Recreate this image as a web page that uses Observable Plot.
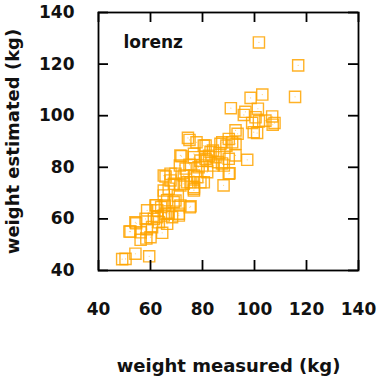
<!DOCTYPE html>
<html>
<head>
<meta charset="utf-8">
<script src="https://cdn.jsdelivr.net/npm/d3@7"></script>
<script src="https://cdn.jsdelivr.net/npm/@observablehq/plot@0.6"></script>
<style>
  html, body { margin: 0; padding: 0; background: #fff; }
</style>
</head>
<body>
<div id="chart"></div>
<script>
const measured = [101.7,116.8,115.6,103,98.5,90.9,101.3,95.9,96.5,106.8,107.7,107,100.4,99.1,101.7,104.2,99.7,101,92.7,93.5,97.2,74.4,75,77.7,90.1,91.4,92.7,87.6,81.2,80.5,86.9,89.2,83.1,92.7,71.9,71.3,76.7,79.2,81.7,85,81.2,90.1,88.2,84.3,79.9,86,87.5,90.4,88.1,71.5,76.7,65.8,67.7,69.6,72.8,76.7,81.8,90.1,75.4,74.1,79.2,80.5,76.7,71.5,69,72.8,76.7,78,65.1,67.7,65.1,67,76.7,65.1,66.4,68.9,69.6,70.5,75.1,75.4,64.1,62.2,61.9,65.5,71.5,67,65.1,70.9,70.9,68.3,66.4,63.2,62.6,65.8,58.7,62.6,61.3,58.1,60.6,54.5,54.2,51.9,52.3,56.2,56.2,58.4,58.6,60,64.5,54.2,59.5,49.1,50.4,82.5,84,86.5,78.5,73.5,75];
const estimated = [128.4,119.5,107.3,108.2,106.9,102.9,102.7,100.3,101.5,99.7,97.2,96.5,99.4,97.2,97.8,98.1,93.6,93.3,94.3,93,82.9,91.4,90.6,89.7,91,89.7,89.1,89.7,88.4,88.4,89.1,88.4,85.9,84.6,84.3,80.7,83.9,82.6,82.6,83.9,83.3,83.3,80.7,80.7,80.7,82,81.5,77.7,73,84.6,85.2,76.4,77.5,77.5,76.8,76.8,78.1,77.5,74.2,74.2,74.2,74.2,71.6,73,73.6,73.6,72.3,76.2,76.8,74.9,71,71.7,71,69.1,67.2,66.5,67.1,69,64.5,64.9,64.6,65.3,65.2,65.2,65.2,62,61.3,61.3,62,60.7,58.1,58.7,60.7,62,63.3,63.3,60,60,56.8,58.3,58.7,55.1,55.1,54.8,51.9,52.4,56,52.9,54.6,46.5,45.5,44.4,44.5,84.5,86.5,85.5,80,79.5,81];
const xTicks = [40, 60, 80, 100, 120, 140];
const yTicks = [40, 60, 80, 100, 120, 140];
const seriesLabel = "lorenz";
const xLabel = "weight measured (kg)";
const yLabel = "weight estimated (kg)";

const points = measured.map((m, i) => ({m, e: estimated[i]}));

const W = 380, H = 380;
const mL = 98, mR = 22, mT = 12, mB = 110;
const innerW = W - mL - mR, innerH = H - mT - mB;
const tick = 10;
const font = "'DejaVu Sans', sans-serif";
const orange = "#ffa500";

const chart = Plot.plot({
  width: W, height: H,
  marginLeft: mL, marginRight: mR, marginTop: mT, marginBottom: mB,
  style: {fontFamily: font, fontSize: "17px", fontWeight: "bold", background: "#fff", color: "#111"},
  x: {domain: [40, 140]},
  y: {domain: [40, 140]},
  marks: [
    Plot.dot(points, {x: "m", y: "e", symbol: "square", r: 6.3, stroke: orange, strokeWidth: 1.4, strokeOpacity: 0.85, fill: "none"}),
    Plot.dot(points, {x: "m", y: "e", r: 0.6, fill: orange, fillOpacity: 0.5, stroke: "none"}),
    Plot.ruleX(xTicks, {x: d => d, insetTop: innerH - tick, stroke: "#000", strokeWidth: 1.8}),
    Plot.ruleX(xTicks, {x: d => d, insetBottom: innerH - tick, stroke: "#000", strokeWidth: 1.8}),
    Plot.ruleY(yTicks, {y: d => d, insetRight: innerW - tick, stroke: "#000", strokeWidth: 1.8}),
    Plot.ruleY(yTicks, {y: d => d, insetLeft: innerW - tick, stroke: "#000", strokeWidth: 1.8}),
    Plot.frame({stroke: "#000", strokeWidth: 1.8}),
    Plot.axisX({ticks: xTicks, tickSize: 0, tickPadding: 32, fontSize: 17, fontWeight: "bold", label: null}),
    Plot.axisX({ticks: [], tickSize: 0, label: xLabel, labelAnchor: "center", labelOffset: 101, labelArrow: "none", fontSize: 18, fontWeight: "bold"}),
    Plot.axisY({ticks: yTicks, tickSize: 0, tickPadding: 24, fontSize: 17, fontWeight: "bold", label: null}),
    Plot.axisY({ticks: [], tickSize: 0, label: yLabel, labelAnchor: "center", labelOffset: 92, labelArrow: "none", fontSize: 18, fontWeight: "bold"}),
    Plot.text([seriesLabel], {frameAnchor: "top-left", dx: 25, dy: 30, text: d => d, fontWeight: "bold", fontSize: 17, textAnchor: "start", lineAnchor: "middle", fill: "#111"})
  ]
});
document.getElementById("chart").appendChild(chart);
</script>
</body>
</html>
